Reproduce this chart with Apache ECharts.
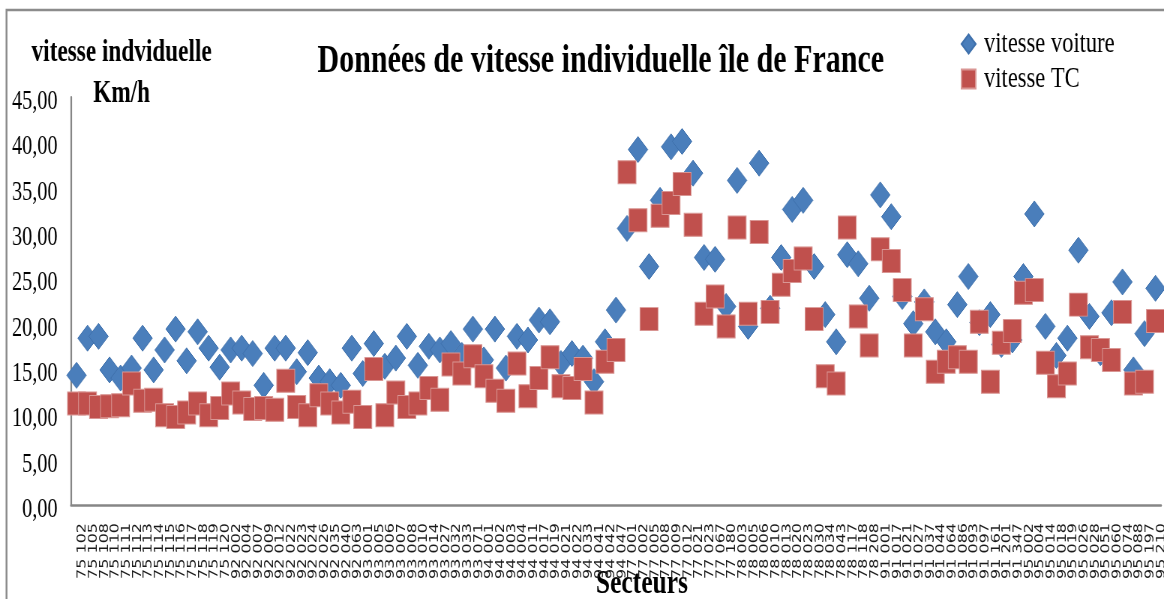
<!DOCTYPE html>
<html>
<head>
<meta charset="utf-8">
<script src="https://cdn.jsdelivr.net/npm/echarts@6/dist/echarts.min.js"></script>
<style>
  html, body { margin: 0; padding: 0; background: #fff; overflow: hidden; }
  #wrap { width: 1164px; height: 599px; overflow: hidden; }
  /* the chart is laid out on a wider canvas and compressed horizontally */
  #chart { width: 1552px; height: 599px; transform: scaleX(0.75); transform-origin: 0 0; }
</style>
</head>
<body>
<div id="wrap"><div id="chart"></div></div>
<script>
// Sector codes, grouped by département
const dept75 = ['102','105','108','110','111','112','113','114','115','116','117','118','119','120'];
const dept92 = ['002','004','007','009','012','022','023','024','026','035','040','063'];
const dept93 = ['001','005','006','007','008','010','014','027','032','033','071'];
const dept94 = ['001','002','003','004','011','017','019','021','022','033','041','042','047'];
const dept77 = ['001','002','005','008','009','012','021','023','067','180'];
const dept78 = ['003','005','006','010','013','020','023','030','034','043','117','118','208'];
const dept91 = ['001','017','021','027','037','044','064','086','093','097','161','201','347'];
const dept95 = ['002','004','014','018','019','026','028','051','060','074','088','197','210'];

// Speeds in km/h, one value per sector
const vitesseVoiture = [
  14.3, 18.4, 18.6, 14.9, 14.0, 15.1, 18.4, 14.9, 17.1, 19.4,
  15.9, 19.1, 17.3, 15.2, 17.1, 17.3, 16.7, 13.2, 17.3, 17.3,
  14.7, 16.8, 14.0, 13.6, 13.2, 17.3, 14.5, 17.8, 15.3, 16.2,
  18.6, 15.4, 17.5, 17.1, 17.8, 16.5, 19.4, 16.0, 19.4, 15.1,
  18.6, 18.2, 20.4, 20.2, 15.6, 16.7, 16.2, 13.6, 18.0, 21.5,
  30.5, 39.2, 26.3, 33.6, 39.5, 40.1, 36.6, 27.3, 27.1, 21.9,
  35.8, 19.7, 37.7, 21.7, 27.3, 32.6, 33.6, 26.3, 21.0, 18.0,
  27.6, 26.6, 22.8, 34.2, 31.8, 23.0, 20.0, 22.4, 19.1, 18.0,
  22.1, 25.2, 20.1, 21.0, 17.7, 18.2, 25.2, 32.1, 19.7, 16.5,
  18.4, 28.1, 20.8, 16.8, 21.2, 24.6, 14.9, 18.9, 23.9
];
const vitesseTC = [
  11.2, 11.2, 10.8, 10.9, 11.0, 13.4, 11.5, 11.6, 9.9, 9.7,
  10.2, 11.2, 9.9, 10.7, 12.3, 11.3, 10.6, 10.7, 10.5, 13.7,
  10.8, 9.9, 12.1, 11.2, 10.2, 11.4, 9.7, 15.0, 9.9, 12.4,
  10.8, 11.2, 12.9, 11.6, 15.5, 14.5, 16.4, 14.2, 12.6, 11.5,
  15.6, 12.0, 14.0, 16.3, 13.1, 12.9, 15.0, 11.3, 15.8, 17.1,
  36.7, 31.4, 20.5, 31.9, 33.3, 35.4, 30.9, 21.1, 23.0, 19.7,
  30.6, 21.1, 30.1, 21.3, 24.3, 25.8, 27.2, 20.5, 14.2, 13.4,
  30.6, 20.8, 17.6, 28.2, 26.9, 23.7, 17.6, 21.6, 14.7, 15.8,
  16.3, 15.8, 20.2, 13.6, 17.9, 19.2, 23.4, 23.7, 15.7, 13.1,
  14.5, 22.1, 17.4, 17.1, 16.0, 21.3, 13.4, 13.6, 20.3
];

const seriesNames = ['vitesse voiture', 'vitesse TC'];
const yTickLabels = ['0,00', '5,00', '10,00', '15,00', '20,00', '25,00', '30,00', '35,00', '40,00', '45,00'];
const chartTitle = 'Données de vitesse individuelle île de France';
const yAxisTitle = 'vitesse indviduelle\nKm/h';
const xAxisTitle = 'Secteurs';

const groups = [['75', dept75], ['92', dept92], ['93', dept93], ['94', dept94],
                ['77', dept77], ['78', dept78], ['91', dept91], ['95', dept95]];
const categories = [];
groups.forEach(([d, codes]) => codes.forEach(c => categories.push(d + ' ' + c)));

const SERIF = "'Liberation Serif', 'Times New Roman', serif";
const SANS = "'DejaVu Sans', 'Liberation Sans', sans-serif";

const chart = echarts.init(document.getElementById('chart'));
chart.setOption({
  animation: false,
  backgroundColor: '#ffffff',
  graphic: [{
    type: 'rect', silent: true, z: -10,
    shape: { x: 8.7, y: 10, width: 2000, height: 1000 },
    style: { fill: 'none', stroke: '#8c8c8c', lineWidth: 2.5 }
  }],
  title: {
    text: chartTitle,
    left: 801, top: 42, padding: 0, textAlign: 'center',
    textStyle: { fontFamily: SERIF, fontSize: 40, fontWeight: 'bold', color: '#000', lineHeight: 40 }
  },
  legend: {
    orient: 'vertical', left: 1281, top: 29, padding: 0, itemGap: 5,
    itemWidth: 19, itemHeight: 19,
    textStyle: { fontFamily: SERIF, fontSize: 30, color: '#000', lineHeight: 30, padding: [0, 0, 0, 6] },
    data: [{ name: seriesNames[0], icon: 'diamond' }, { name: seriesNames[1], icon: 'rect' }]
  },
  grid: { left: 94.7, top: 97, width: 1453.3, height: 408, containLabel: false, outerBoundsMode: 'none' },
  xAxis: {
    type: 'category', data: categories, boundaryGap: true,
    axisLine: { lineStyle: { color: '#868686', width: 2.5 } },
    axisTick: { show: false },
    splitLine: { show: false },
    axisLabel: { interval: 0, rotate: 90, margin: 18, fontFamily: SANS, fontSize: 16, color: '#1a1a1a',
                 verticalAlign: 'top', lineHeight: 16 },
    name: xAxisTitle, nameLocation: 'middle', nameGap: 62, nameMoveOverlap: false,
    nameTextStyle: { fontFamily: SERIF, fontSize: 34, fontWeight: 'bold', color: '#000',
                     lineHeight: 34, align: 'center', verticalAlign: 'top', padding: [0, 0, 0, 69] }
  },
  yAxis: {
    type: 'value', min: 0, max: 45, interval: 5,
    axisLine: { show: true, lineStyle: { color: '#868686', width: 2.2 } },
    axisTick: { show: false },
    splitLine: { show: false },
    axisLabel: {
      margin: 18, fontFamily: SERIF, fontSize: 27, color: '#000', verticalAlign: 'top', lineHeight: 10,
      formatter: v => yTickLabels[Math.round(v / 5)]
    },
    name: yAxisTitle, nameLocation: 'end', nameGap: -17, nameMoveOverlap: false,
    nameTextStyle: { fontFamily: SERIF, fontSize: 31, fontWeight: 'bold', color: '#000',
                     lineHeight: 41, align: 'center', verticalAlign: 'bottom', padding: [0, 0, 0, 135] }
  },
  series: [
    {
      name: seriesNames[0], type: 'scatter', data: vitesseVoiture,
      symbol: 'diamond', symbolSize: [26, 26],
      itemStyle: { color: '#4A7EBB', borderColor: '#3E70AC', borderWidth: 1, opacity: 1 }
    },
    {
      name: seriesNames[1], type: 'scatter', data: vitesseTC,
      symbol: 'rect', symbolSize: [24, 23],
      itemStyle: { color: '#C0504D', borderColor: '#D99694', borderWidth: 1, opacity: 1 }
    }
  ]
});
</script>
</body>
</html>
